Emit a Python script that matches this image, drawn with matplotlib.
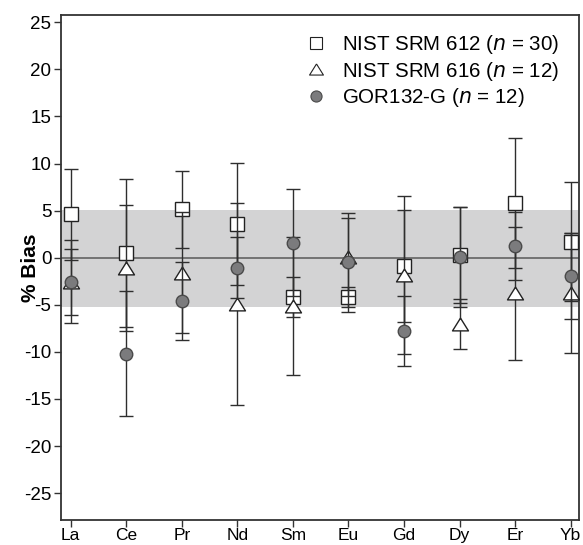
import matplotlib
matplotlib.use("Agg")
import matplotlib.pyplot as plt
from matplotlib.lines import Line2D
import numpy as np

plt.rcParams['font.family'] = ['Liberation Sans', 'DejaVu Sans']

elements = ["La", "Ce", "Pr", "Nd", "Sm", "Eu", "Gd", "Dy", "Er", "Yb"]

srm612 = [4.6, 0.5, 5.15, 3.6, -4.15, -4.14, -0.85, 0.3, 5.84, 1.7]
srm612_err = [4.85, 7.9, 4.1, 6.5, 2.1, 1.05, 5.95, 5.1, 6.9, 6.35]

srm616 = [-2.6, -1.1, -1.6, -4.9, -5.1, 0.1, -1.8, -7.05, -3.8, -3.75]
srm616_err = [3.5, 6.7, 6.4, 10.7, 7.35, 4.15, 8.4, 2.65, 7.1, 6.4]

gor132 = [-2.55, -10.2, -4.6, -1.05, 1.6, -0.5, -7.8, 0.1, 1.25, -1.95]
gor132_err = [4.4, 6.65, 4.1, 3.25, 5.7, 5.25, 3.7, 5.3, 3.65, 4.6]

labels = ["NIST SRM 612 ($\\it{n}$ = 30)", "NIST SRM 616 ($\\it{n}$ = 12)", "GOR132-G ($\\it{n}$ = 12)"]

x = np.arange(len(elements))

fig = plt.figure(figsize=(5.83, 5.45), dpi=100)
ax = fig.add_axes([0.1046, 0.0459, 0.8891, 0.9271])

ax.set_xlim(-0.175, 9.155)
ax.set_ylim(-27.85, 25.8)

ax.axhspan(-5.2, 5.1, color="#d3d3d4", zorder=0, lw=0)
ax.axhline(0, color="#6b6b6b", lw=1.3, zorder=1)

tri = [(0, 0.8), (-1, -0.8), (1, -0.8), (0, 0.8)]
ecol = "#2e2e2e"

ax.errorbar(x, srm612, yerr=srm612_err, fmt="none", ecolor=ecol, elinewidth=1.0,
            capsize=5, capthick=1.0, zorder=2)
ax.plot(x, srm612, ls="none", marker="s", ms=9.5, mfc="white", mec="#222222", mew=1.0, zorder=3)

ax.errorbar(x, srm616, yerr=srm616_err, fmt="none", ecolor=ecol, elinewidth=1.0,
            capsize=5, capthick=1.0, zorder=4)
ax.plot(x, srm616, ls="none", marker=tri, ms=11.5, mfc="white", mec="#222222", mew=1.0, zorder=5)

ax.errorbar(x, gor132, yerr=gor132_err, fmt="none", ecolor=ecol, elinewidth=1.0,
            capsize=5, capthick=1.0, zorder=6)
ax.plot(x, gor132, ls="none", marker="o", ms=9, mfc="#7b7b7d", mec="#4a4a4a", mew=1.0, zorder=7)

ax.set_xticks(x)
ax.set_xticklabels(elements, fontsize=12.5)
ax.set_yticks(np.arange(-25, 26, 5))
ax.set_yticklabels([str(v) for v in range(-25, 26, 5)], fontsize=13.5)
ax.tick_params(axis="both", direction="out", length=5, width=1.0, color="#333333", pad=2)
ax.tick_params(axis="x", pad=1)
for s in ax.spines.values():
    s.set_color("#333333")
    s.set_linewidth(1.3)

ax.set_ylabel("% Bias", fontsize=15, fontweight="bold")
ax.yaxis.set_label_coords(-0.04, 0.5)

handles = [
    Line2D([], [], ls="none", marker="s", ms=8, mfc="white", mec="#222222", mew=0.8),
    Line2D([], [], ls="none", marker=tri, ms=10, mfc="white", mec="#222222", mew=0.8),
    Line2D([], [], ls="none", marker="o", ms=8, mfc="#7b7b7d", mec="#4a4a4a", mew=0.8),
]
ax.legend(handles, labels, loc="upper right", frameon=False, fontsize=14.8,
          handlelength=1.0, handletextpad=0.75, labelspacing=0.17,
          bbox_to_anchor=(0.988, 0.992), borderaxespad=0.3)

fig.savefig("out.png", dpi=100)
